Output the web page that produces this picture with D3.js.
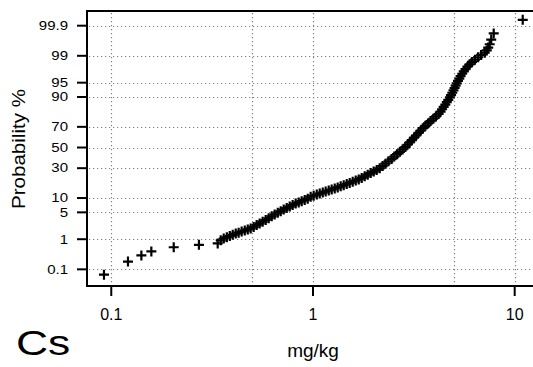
<!DOCTYPE html>
<html>
<head>
<meta charset="utf-8">
<script src="https://cdn.jsdelivr.net/npm/d3@7/dist/d3.min.js"></script>
<style>
  html, body { margin: 0; padding: 0; background: #fff; }
  svg { display: block; font-family: "Liberation Sans", Arial, sans-serif; }
</style>
</head>
<body>
<div class="graph_wrapper"></div>
<script>
// Cs concentration (mg/kg) against cumulative probability (%)
const concentration = [
  0.092, 0.121, 0.141, 0.158, 0.204, 0.272,
  0.337, 0.349, 0.361, 0.374, 0.387, 0.400, 0.414, 0.428, 0.443, 0.459,
  0.475, 0.491, 0.508, 0.526, 0.544, 0.563, 0.583, 0.603, 0.624, 0.646,
  0.669, 0.692, 0.716, 0.741, 0.767, 0.793, 0.821, 0.850, 0.879, 0.910,
  0.942, 0.974, 1.008, 1.044, 1.080, 1.118, 1.156, 1.197, 1.238, 1.282,
  1.326, 1.372, 1.420, 1.470, 1.521, 1.574, 1.629, 1.686, 1.744, 1.805,
  1.868, 1.933, 2.000, 2.070, 2.142,
  2.214, 2.288, 2.367, 2.453, 2.530, 2.612, 2.697, 2.782, 2.869, 2.942,
  3.016, 3.093, 3.171, 3.252, 3.335, 3.420, 3.507, 3.608, 3.717, 3.828,
  3.949, 4.068, 4.195, 4.292, 4.366, 4.446, 4.528, 4.607, 4.686, 4.772,
  4.838, 4.905, 4.973, 5.036, 5.099, 5.157, 5.234, 5.313, 5.392, 5.491,
  5.592, 5.703, 5.834, 5.976, 6.142, 6.356, 6.585, 6.815,
  7.10, 7.27, 7.39, 7.52, 7.65, 7.87, 10.96
]
const probability = [
  0.063, 0.19, 0.31, 0.42, 0.57, 0.68,
  0.75, 0.93, 1.05, 1.14, 1.24, 1.34, 1.45, 1.54, 1.65, 1.76,
  1.89, 2.01, 2.20, 2.45, 2.71, 2.99, 3.30, 3.64, 4.05, 4.46,
  4.91, 5.30, 5.76, 6.21, 6.69, 7.23, 7.74, 8.18, 8.66, 9.19,
  9.70, 10.64, 11.06, 11.61, 12.12, 12.63, 13.22, 13.77, 14.34, 14.96,
  15.58, 16.25, 16.95, 17.72, 18.46, 19.28, 20.13, 20.93, 22.04, 23.24,
  24.51, 25.81, 27.12, 28.50, 29.88,
  31.92, 34.09, 36.32, 38.59, 40.90, 43.25, 45.62, 48.01, 50.40, 52.79,
  55.17, 57.53, 59.87, 62.17, 64.43, 66.64, 68.79, 70.88, 72.91, 74.86,
  76.73, 78.52, 80.23, 81.86, 83.40, 84.85, 86.21, 87.49, 88.69, 89.80,
  90.82, 91.77, 92.65, 93.45, 94.18, 94.84, 95.45, 95.99, 96.49, 96.93,
  97.32, 97.67, 97.98, 98.26, 98.50, 98.71, 98.90, 99.06,
  99.19, 99.31, 99.44, 99.56, 99.69, 99.81, 99.94
]
const probTicks = [0.1, 1, 5, 10, 30, 50, 70, 90, 95, 99, 99.9]
const concTicks = [0.1, 1, 10]
const concGrid = [0.1, 0.5, 1, 5, 10]
const element = "Cs"
const xTitle = "mg/kg"
const yTitle = "Probability %"

// inverse normal cdf (Acklam), used for the probability axis
function probit(p) {
  const a = [-39.69683028665376, 220.9460984245205, -275.9285104469687, 138.3577518672690, -30.66479806614716, 2.506628277459239]
  const b = [-54.47609879822406, 161.5858368580409, -155.6989798598866, 66.80131188771972, -13.28068155288572]
  const c = [-0.007784894002430293, -0.3223964580411365, -2.400758277161838, -2.549732539343734, 4.374664141464968, 2.938163982698783]
  const d = [0.007784695709041462, 0.3224671290700398, 2.445134137142996, 3.754408661907416]
  const pl = 0.02425
  let q, r
  if (p < pl) {
    q = Math.sqrt(-2 * Math.log(p))
    return (((((c[0] * q + c[1]) * q + c[2]) * q + c[3]) * q + c[4]) * q + c[5]) /
      ((((d[0] * q + d[1]) * q + d[2]) * q + d[3]) * q + 1)
  }
  if (p > 1 - pl) {
    q = Math.sqrt(-2 * Math.log(1 - p))
    return -(((((c[0] * q + c[1]) * q + c[2]) * q + c[3]) * q + c[4]) * q + c[5]) /
      ((((d[0] * q + d[1]) * q + d[2]) * q + d[3]) * q + 1)
  }
  q = p - 0.5
  r = q * q
  return (((((a[0] * r + a[1]) * r + a[2]) * r + a[3]) * r + a[4]) * r + a[5]) * q /
    (((((b[0] * r + b[1]) * r + b[2]) * r + b[3]) * r + b[4]) * r + 1)
}

const width = 533
const height = 367
const margin = { left: 87, top: 11, right: 540, bottom: 286 }

const x = d3.scaleLog()
  .domain([0.0758, 13.35])
  .range([margin.left, margin.right])

const zScale = d3.scaleLinear()
  .domain([-3.513, 3.463])
  .range([margin.bottom, margin.top])
const y = p => zScale(probit(p / 100))

const data = concentration.map((c, i) => ({ c: c, p: probability[i] }))

const svg = d3.select('.graph_wrapper')
  .append('svg')
  .attr('width', width)
  .attr('height', height)
  .attr('viewBox', [0, 0, width, height])

// dotted grid
const grid = svg.append('g')
  .attr('stroke', '#808080')
  .attr('stroke-width', 1.2)
  .attr('stroke-dasharray', '1.2,2.8')
grid.selectAll('line.h')
  .data(probTicks)
  .join('line')
  .attr('class', 'h')
  .attr('x1', margin.left + 2)
  .attr('x2', width)
  .attr('y1', d => Math.round(y(d)) + 0.5)
  .attr('y2', d => Math.round(y(d)) + 0.5)
grid.selectAll('line.v')
  .data(concGrid)
  .join('line')
  .attr('class', 'v')
  .attr('x1', d => Math.round(x(d)) + 0.5)
  .attr('x2', d => Math.round(x(d)) + 0.5)
  .attr('y1', margin.top + 2)
  .attr('y2', margin.bottom)

// frame, the right side runs off the picture
svg.append('rect')
  .attr('x', margin.left)
  .attr('y', margin.top)
  .attr('width', margin.right - margin.left)
  .attr('height', margin.bottom - margin.top)
  .attr('fill', 'none')
  .attr('stroke', '#000')
  .attr('stroke-width', 2)

// y axis, labels are a bit wide in the original so stretch them
const yAxis = svg.append('g')
yAxis.selectAll('line')
  .data(probTicks)
  .join('line')
  .attr('x1', margin.left - 10)
  .attr('x2', margin.left)
  .attr('y1', d => y(d))
  .attr('y2', d => y(d))
  .attr('stroke', '#000')
  .attr('stroke-width', 2)
yAxis.selectAll('text')
  .data(probTicks)
  .join('text')
  .attr('transform', d => `translate(68,${y(d) + 4.3}) scale(1.25,1)`)
  .attr('text-anchor', 'end')
  .attr('font-size', 12)
  .attr('fill', '#000')
  .text(d => d)

// x axis
const xAxis = svg.append('g')
xAxis.selectAll('line')
  .data(concTicks)
  .join('line')
  .attr('x1', d => x(d))
  .attr('x2', d => x(d))
  .attr('y1', margin.bottom)
  .attr('y2', margin.bottom + 10)
  .attr('stroke', '#000')
  .attr('stroke-width', 2)
xAxis.selectAll('text')
  .data(concTicks)
  .join('text')
  .attr('x', d => x(d))
  .attr('y', 320)
  .attr('text-anchor', 'middle')
  .attr('font-size', 16)
  .attr('fill', '#000')
  .text(d => d)

// titles
svg.append('text')
  .attr('transform', 'translate(25,149) rotate(-90)')
  .attr('text-anchor', 'middle')
  .attr('font-size', 18)
  .attr('textLength', 120)
  .attr('lengthAdjust', 'spacingAndGlyphs')
  .text(yTitle)
svg.append('text')
  .attr('x', 313)
  .attr('y', 357)
  .attr('text-anchor', 'middle')
  .attr('font-size', 19)
  .text(xTitle)
svg.append('text')
  .attr('transform', 'translate(16,355) scale(1.27,1)')
  .attr('font-size', 35)
  .text(element)

// plus markers
svg.append('g')
  .selectAll('path')
  .data(data)
  .join('path')
  .attr('transform', d => `translate(${x(d.c)},${y(d.p)})`)
  .attr('d', 'M-5,0H5M0,-5V5')
  .attr('stroke', '#000')
  .attr('stroke-width', 2.2)
  .attr('fill', 'none')
</script>
</body>
</html>
